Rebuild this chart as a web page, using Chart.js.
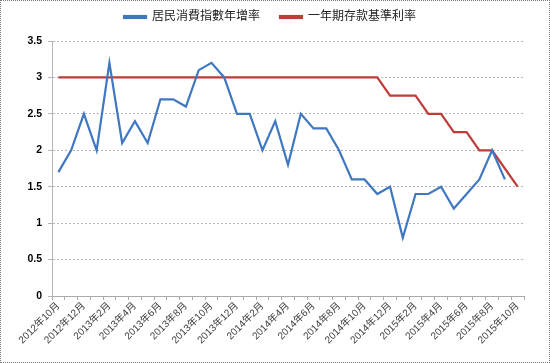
<!DOCTYPE html>
<html>
<head>
<meta charset="utf-8">
<script src="https://cdn.jsdelivr.net/npm/chart.js@4"></script>
<style>
  body { margin: 0; background: #fff; }
  #wrap { width: 550px; height: 363px; box-sizing: border-box; border: 1px dotted #777; }
</style>
</head>
<body>
<div id="wrap"><canvas id="chart" width="548" height="361"></canvas></div>
<script>
// 2012年10月 .. 2015年10月
const months = [];
for (let y = 2012, m = 10; y < 2015 || (y === 2015 && m <= 10); m++) {
    if (m > 12) { m = 1; y++; }
    months.push(y + '年' + m + '月');
}

const cpiGrowth = [1.7, 2.0, 2.5, 2.0, 3.2, 2.1, 2.4, 2.1, 2.7, 2.7, 2.6, 3.1, 3.2,
    3.0, 2.5, 2.5, 2.0, 2.4, 1.8, 2.5, 2.3, 2.3, 2.0, 1.6, 1.6, 1.4, 1.5,
    0.8, 1.4, 1.4, 1.5, 1.2, 1.4, 1.6, 2.0, 1.6, null];

const depositRate = [3, 3, 3, 3, 3, 3, 3, 3, 3, 3, 3, 3, 3,
    3, 3, 3, 3, 3, 3, 3, 3, 3, 3, 3, 3, 3, 2.75,
    2.75, 2.75, 2.5, 2.5, 2.25, 2.25, 2.0, 2.0, 1.75, 1.5];

const fontFamily = "'Liberation Sans', 'Noto Sans CJK SC', sans-serif";

// leave a little more room under the legend
const legendGap = {
    id: 'legendGap',
    afterInit(chart) {
        const fit = chart.legend.fit;
        chart.legend.fit = function() {
            fit.call(this);
            this.height += 8;
        };
    }
};

const ctx = document.getElementById('chart').getContext('2d');
new Chart(ctx, {
    type: 'line',
    data: {
        labels: months,
        datasets: [{
            label: '居民消費指數年增率',
            data: cpiGrowth,
            borderColor: '#3F78C0',
            backgroundColor: '#3F78C0',
            borderWidth: 2.2,
            pointRadius: 0,
            tension: 0
        }, {
            label: '一年期存款基準利率',
            data: depositRate,
            borderColor: '#BE3C39',
            backgroundColor: '#BE3C39',
            borderWidth: 2.2,
            pointRadius: 0,
            tension: 0
        }]
    },
    options: {
        responsive: false,
        animation: false,
        layout: { padding: { left: 15, right: 25, top: -10, bottom: 4 } },
        plugins: {
            legend: {
                position: 'top',
                labels: {
                    boxWidth: 22,
                    boxHeight: 2,
                    padding: 20,
                    color: '#222',
                    font: { family: fontFamily, size: 12 }
                }
            },
            tooltip: { enabled: false }
        },
        scales: {
            x: {
                offset: true,
                afterFit: scale => { scale.height = 62; },
                grid: {
                    offset: true,
                    drawOnChartArea: false,
                    drawTicks: true,
                    tickLength: 4,
                    color: '#aaa'
                },
                border: { color: '#aaa' },
                ticks: {
                    autoSkip: false,
                    maxRotation: 45,
                    minRotation: 45,
                    padding: 0,
                    color: '#404040',
                    font: { family: fontFamily, size: 10 },
                    callback: function(value, index) {
                        return index % 2 === 0 ? this.getLabelForValue(value) : '';
                    }
                }
            },
            y: {
                min: 0,
                max: 3.5,
                afterFit: scale => { scale.width = 36; },
                ticks: {
                    stepSize: 0.5,
                    padding: 6,
                    color: '#000',
                    font: { family: fontFamily, size: 10.5, weight: 'bold' },
                    callback: v => String(v)
                },
                grid: {
                    color: '#b5b5b5',
                    drawTicks: true,
                    tickLength: 4
                },
                border: { color: '#b5b5b5', dash: [2, 2] }
            }
        }
    },
    plugins: [legendGap]
});
</script>
</body>
</html>
